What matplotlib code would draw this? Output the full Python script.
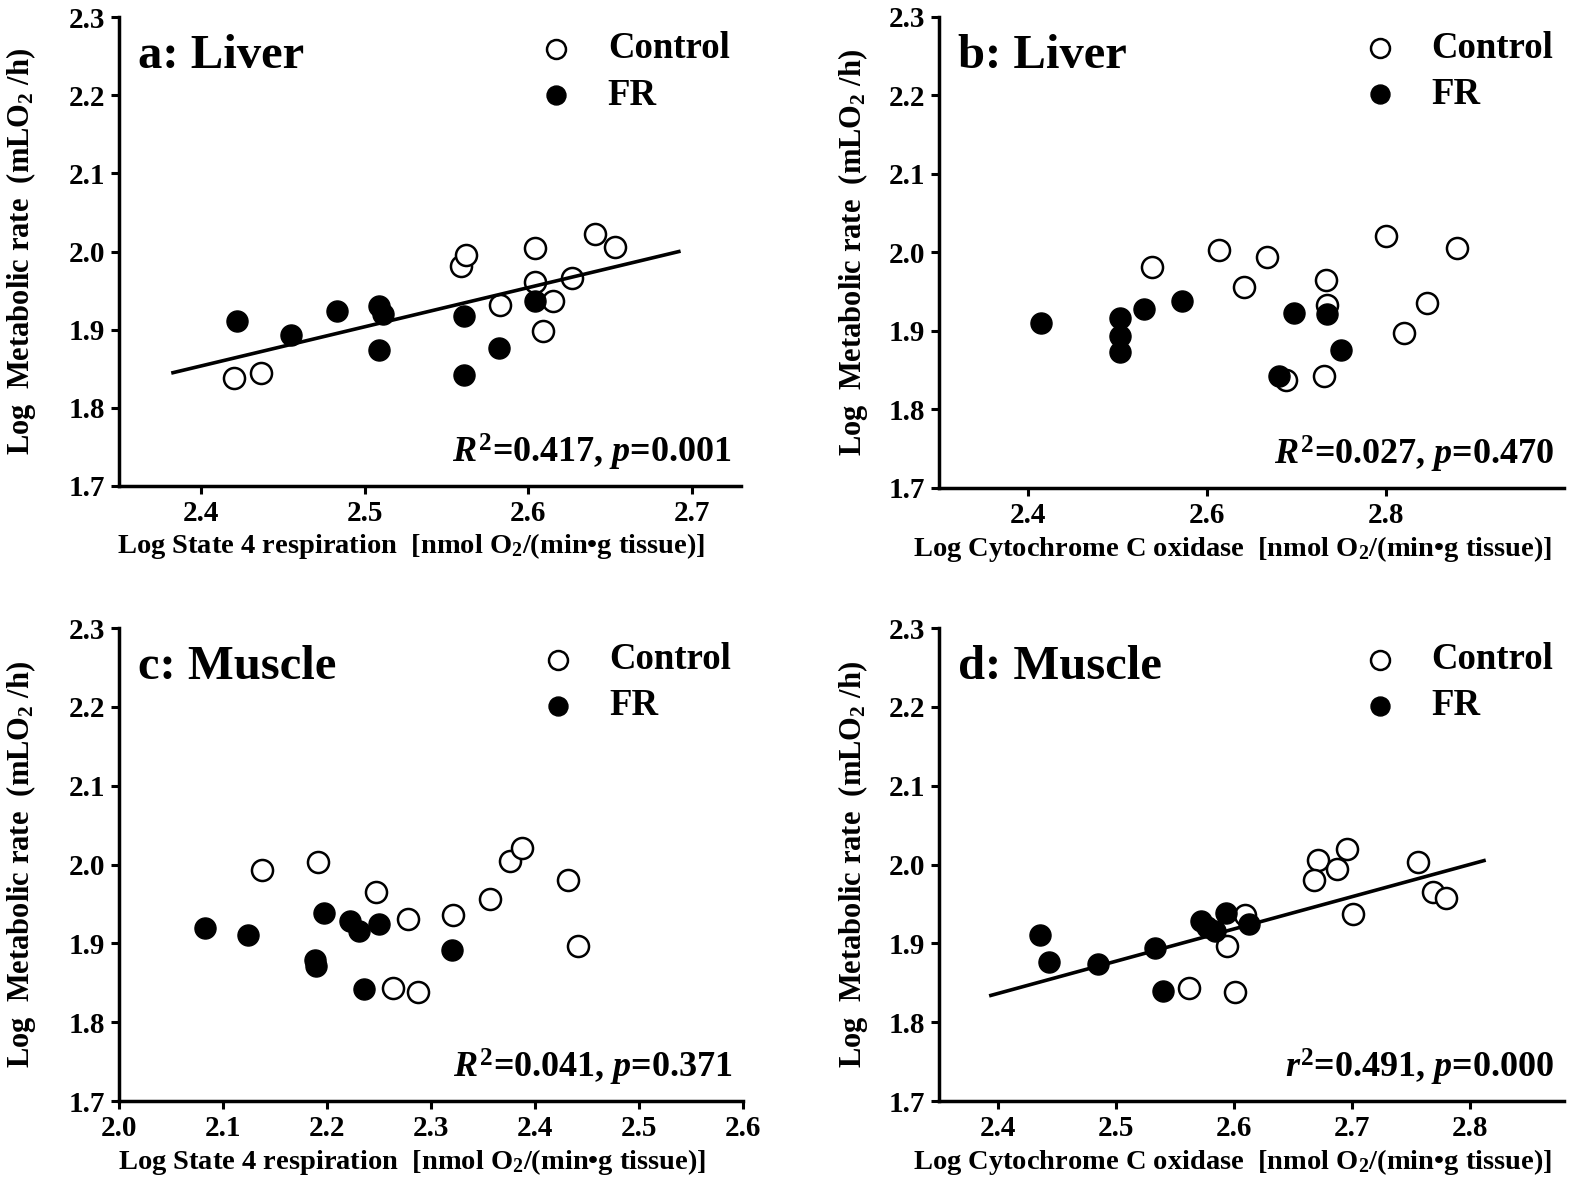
import matplotlib
matplotlib.use('Agg')
import matplotlib.pyplot as plt

plt.rcParams['font.family'] = ['Liberation Serif', 'DejaVu Serif']
plt.rcParams['font.weight'] = 'bold'
plt.rcParams['mathtext.fontset'] = 'custom'
plt.rcParams['mathtext.rm'] = 'Liberation Serif:bold'
plt.rcParams['mathtext.it'] = 'Liberation Serif:italic:bold'
plt.rcParams['mathtext.bf'] = 'Liberation Serif:bold'

# ---------------- data ----------------
# Panel a: Liver, State 4 respiration
a_ctrl_x = [2.420, 2.437, 2.559, 2.562, 2.604, 2.604, 2.583, 2.615, 2.609, 2.627, 2.641, 2.653]
a_ctrl_y = [1.838, 1.844, 1.982, 1.995, 2.004, 1.961, 1.931, 1.937, 1.898, 1.966, 2.022, 2.006]
a_fr_x = [2.422, 2.455, 2.483, 2.509, 2.511, 2.509, 2.561, 2.561, 2.582, 2.604]
a_fr_y = [1.911, 1.893, 1.924, 1.930, 1.920, 1.874, 1.917, 1.842, 1.876, 1.937]
a_fit_x = [2.383, 2.692]
a_fit_y = [1.845, 2.000]

# Panel b: Liver, Cytochrome C oxidase
b_ctrl_x = [2.539, 2.614, 2.642, 2.667, 2.733, 2.734, 2.731, 2.688, 2.800, 2.821, 2.846, 2.880]
b_ctrl_y = [1.981, 2.003, 1.956, 1.994, 1.965, 1.933, 1.843, 1.837, 2.021, 1.897, 1.936, 2.005]
b_fr_x = [2.414, 2.503, 2.503, 2.503, 2.530, 2.572, 2.698, 2.734, 2.681, 2.750]
b_fr_y = [1.910, 1.917, 1.893, 1.873, 1.928, 1.938, 1.923, 1.922, 1.842, 1.876]

# Panel c: Muscle, State 4 respiration
c_ctrl_x = [2.138, 2.191, 2.247, 2.278, 2.321, 2.357, 2.376, 2.388, 2.432, 2.442, 2.264, 2.288]
c_ctrl_y = [1.993, 2.003, 1.965, 1.931, 1.936, 1.956, 2.005, 2.021, 1.981, 1.897, 1.843, 1.838]
c_fr_x = [2.083, 2.124, 2.197, 2.222, 2.231, 2.250, 2.189, 2.190, 2.236, 2.320]
c_fr_y = [1.920, 1.910, 1.938, 1.928, 1.916, 1.924, 1.879, 1.871, 1.842, 1.892]

# Panel d: Muscle, Cytochrome C oxidase
d_ctrl_x = [2.671, 2.668, 2.687, 2.696, 2.756, 2.769, 2.780, 2.701, 2.609, 2.594, 2.562, 2.601]
d_ctrl_y = [2.006, 1.981, 1.994, 2.020, 2.003, 1.965, 1.958, 1.937, 1.936, 1.897, 1.844, 1.838]
d_fr_x = [2.436, 2.443, 2.485, 2.533, 2.540, 2.572, 2.584, 2.577, 2.593, 2.613]
d_fr_y = [1.911, 1.877, 1.874, 1.894, 1.840, 1.928, 1.916, 1.921, 1.939, 1.924]
d_fit_x = [2.394, 2.812]
d_fit_y = [1.834, 2.005]

titles = ['a: Liver', 'b: Liver', 'c: Muscle', 'd: Muscle']
stats = [r'$\mathit{R}^{2}$=0.417, $\mathit{p}$=0.001',
         r'$\mathit{R}^{2}$=0.027, $\mathit{p}$=0.470',
         r'$\mathit{R}^{2}$=0.041, $\mathit{p}$=0.371',
         r'$\mathit{r}^{2}$=0.491, $\mathit{p}$=0.000']
xlabels = ['Log State 4 respiration  [nmol O$_2$/(min\u2022g tissue)]',
           'Log Cytochrome C oxidase  [nmol O$_2$/(min\u2022g tissue)]',
           'Log State 4 respiration  [nmol O$_2$/(min\u2022g tissue)]',
           'Log Cytochrome C oxidase  [nmol O$_2$/(min\u2022g tissue)]']
ylabel = 'Log  Metabolic rate  (mLO$_2$ /h)'
xlims = [(2.35, 2.73), (2.3, 3.0), (2.0, 2.6), (2.35, 2.88)]
xticks = [[2.4, 2.5, 2.6, 2.7], [2.4, 2.6, 2.8],
          [2.0, 2.1, 2.2, 2.3, 2.4, 2.5, 2.6], [2.4, 2.5, 2.6, 2.7, 2.8]]
yticks = [1.7, 1.8, 1.9, 2.0, 2.1, 2.2, 2.3]

panels = [
    (a_ctrl_x, a_ctrl_y, a_fr_x, a_fr_y, a_fit_x, a_fit_y),
    (b_ctrl_x, b_ctrl_y, b_fr_x, b_fr_y, None, None),
    (c_ctrl_x, c_ctrl_y, c_fr_x, c_fr_y, None, None),
    (d_ctrl_x, d_ctrl_y, d_fr_x, d_fr_y, d_fit_x, d_fit_y),
]

positions = [
    [0.0746, 0.5885, 0.390, 0.397],
    [0.5887, 0.5868, 0.392, 0.399],
    [0.0746, 0.0677, 0.391, 0.4005],
    [0.5887, 0.0677, 0.392, 0.4005],
]
ylabel_x = [-0.13, -0.11, -0.13, -0.11]
xlabel_x = [0.47, 0.47, 0.47, 0.47]

fig = plt.figure(figsize=(15.95, 11.81), dpi=100)

for i, (cx, cy, fx, fy, lx, ly) in enumerate(panels):
    ax = fig.add_axes(positions[i])
    hc = ax.scatter(cx, cy, s=230, facecolor='white', edgecolor='black',
                    linewidth=1.8, zorder=2, label='Control', clip_on=False)
    hf = ax.scatter(fx, fy, s=230, facecolor='black', edgecolor='black',
                    linewidth=1.0, zorder=2.5, label='FR', clip_on=False)
    if lx is not None:
        ax.plot(lx, ly, color='black', lw=2.6, zorder=3)
    ax.set_xlim(*xlims[i])
    ax.set_ylim(1.7, 2.3)
    ax.set_xticks(xticks[i])
    ax.set_yticks(yticks)
    ax.set_xticklabels(['%.1f' % v for v in xticks[i]])
    ax.set_yticklabels(['%.1f' % v for v in yticks])
    for s in ['top', 'right']:
        ax.spines[s].set_visible(False)
    for s in ['left', 'bottom']:
        ax.spines[s].set_linewidth(2.5)
    ax.tick_params(direction='out', length=6, width=2.2, labelsize=21, pad=4)
    for lab in ax.get_xticklabels() + ax.get_yticklabels():
        lab.set_fontweight('bold')
    ax.set_ylabel(ylabel, fontsize=22, fontweight='bold')
    ax.yaxis.set_label_coords(ylabel_x[i], 0.5)
    ax.set_xlabel(xlabels[i], fontsize=20.5, fontweight='bold')
    ax.xaxis.set_label_coords(xlabel_x[i], -0.097)
    ax.text(0.03, 0.917, titles[i], transform=ax.transAxes, fontsize=35,
            fontweight='bold', ha='left', va='center')
    ax.text(0.985, 0.072, stats[i], transform=ax.transAxes, fontsize=26,
            fontweight='bold', ha='right', va='center')
    leg = ax.legend(handles=[hc, hf], loc='upper right', frameon=False,
                    prop={'size': 26.5, 'weight': 'bold'}, markerscale=0.9,
                    handletextpad=0.4, labelspacing=0.3,
                    bbox_to_anchor=(1.035, 1.04))

fig.savefig('out.png', dpi=100)
